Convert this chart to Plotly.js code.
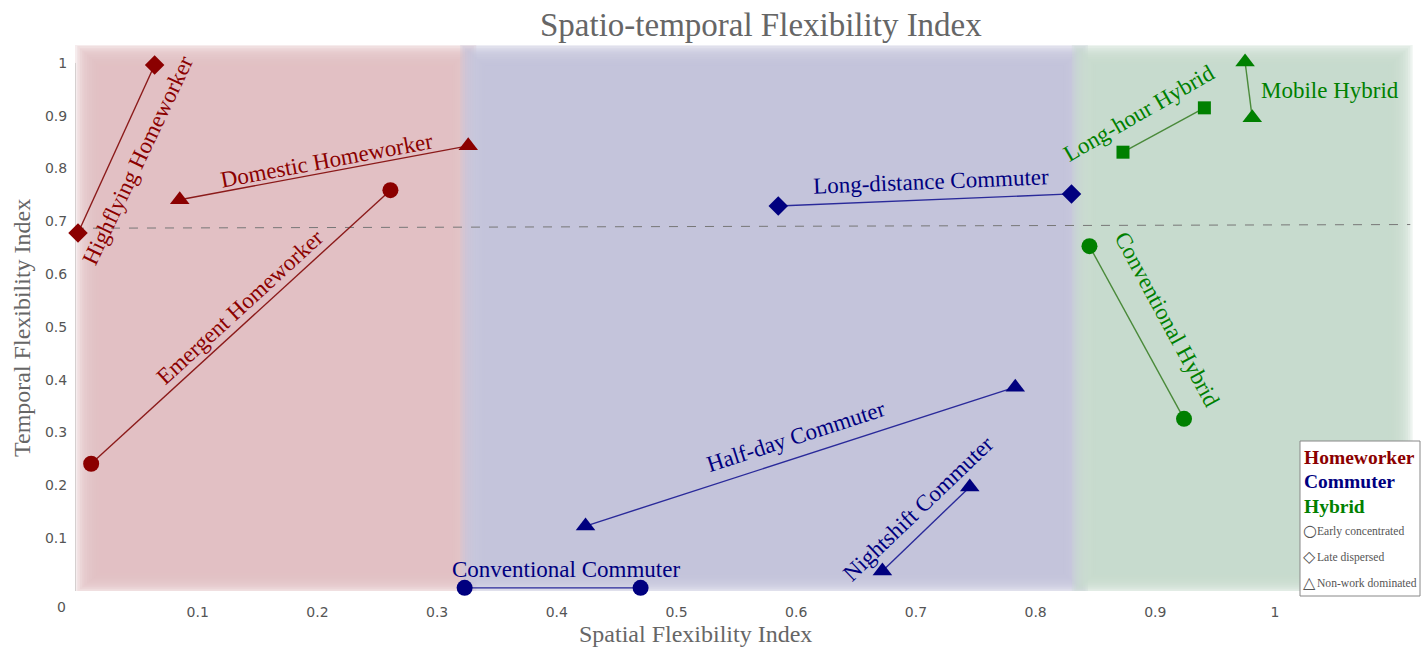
<!DOCTYPE html>
<html><head><meta charset="utf-8">
<script src="https://cdn.plot.ly/plotly-3.0.1.min.js"></script>
<style>html,body{margin:0;padding:0;background:#fff}#chart{width:1422px;height:647px}</style>
</head><body><div id="chart"></div>
<script>
// ---- data ----
const segments = ["Highflying Homeworker","Domestic Homeworker","Emergent Homeworker",
  "Long-distance Commuter","Half-day Commuter","Conventional Commuter","Nightshift Commuter",
  "Long-hour Hybrid","Mobile Hybrid","Conventional Hybrid"];
const groups = ["Homeworker","Homeworker","Homeworker","Commuter","Commuter","Commuter","Commuter","Hybrid","Hybrid","Hybrid"];
const spatialStart  = [0.000, 0.085, 0.011, 0.585, 0.424, 0.323, 0.672, 0.873, 0.975, 0.845];
const spatialEnd    = [0.064, 0.326, 0.261, 0.830, 0.783, 0.470, 0.745, 0.941, 0.981, 0.924];
const temporalStart = [0.678, 0.741, 0.241, 0.729, 0.123, 0.006, 0.038, 0.831, 1.002, 0.653];
const temporalEnd   = [0.996, 0.843, 0.759, 0.752, 0.386, 0.006, 0.197, 0.915, 0.896, 0.326];
const shapeType = ["diamond","triangle","circle","diamond","triangle","circle","triangle","square","triangle","circle"];
const xTicks = [0.1,0.2,0.3,0.4,0.5,0.6,0.7,0.8,0.9,1];
const yTicks = [0.1,0.2,0.3,0.4,0.5,0.6,0.7,0.8,0.9,1];
const regionNames = ["Homeworker","Commuter","Hybrid"];
const regionBounds = [[-0.0025,0.326],[0.326,0.837],[0.837,1.115]];
const thresholdY = [0.687, 0.694];

// ---- styles ----
const groupColor = {Homeworker:"#8b0000", Commuter:"#00007f", Hybrid:"#008000"};
const lineColor = {Homeworker:"#8b1a1a", Commuter:"#2a2a9a", Hybrid:"#4a8a3a"};
const regionColor = {Homeworker:"#e0c1c3", Commuter:"#c4c4db", Hybrid:"#c6dccd"};
const symbolMap = {diamond:"diamond", triangle:"triangle-up", circle:"circle", square:"square"};
const sizeMap = {diamond:15, triangle:17, circle:16, square:13};
// label placement: [x, y, angle]
const labelPos = [
  [0.050,0.815,-64.5],[0.208,0.815,-10.6],[0.135,0.537,-42.5],
  [0.713,0.775,-2.3],[0.600,0.292,-17.9],[0.408,0.040,0],[0.702,0.157,-43.7],
  [0.886,0.905,-30],[1.046,0.947,0],[0.910,0.515,61.5]
];

const XMIN=-0.0025, XMAX=1.1228, YMIN=0, YMAX=1.034;
const serif = "Liberation Serif, Times New Roman, serif";
const sans = "DejaVu Sans, Verdana, sans-serif";

const traces = segments.map((s,i)=>({
  type:"scatter", mode:"lines+markers", name:s,
  x:[spatialStart[i], spatialEnd[i]], y:[temporalStart[i], temporalEnd[i]],
  line:{color:lineColor[groups[i]], width:1.4},
  marker:{symbol:symbolMap[shapeType[i]], size:sizeMap[shapeType[i]], color:groupColor[groups[i]], line:{width:0}},
  cliponaxis:false, hoverinfo:"name"
}));

const shapes = [];
const pxX = 1/1197, pxY = 1/528;
// soft-edged background regions built from stacked translucent rectangles
const N = 11, STEP = 2.4, HALF = 8;
regionNames.forEach((r,ri)=>{
  const [bx0,bx1] = regionBounds[ri];
  const ox0 = bx0 - (ri>0 ? HALF*pxX : 0);
  const ox1 = bx1 + (ri<2 ? HALF*pxX : 0);
  const oy0 = -2*pxY, oy1 = 1.036;
  for(let k=0;k<N;k++){
    const d=k*STEP;
    shapes.push({type:"rect", xref:"x", yref:"y", layer:"below",
      x0:ox0+d*pxX, x1:ox1-d*pxX, y0:oy0+d*pxY*0.8, y1:oy1-d*pxY*0.9,
      fillcolor:regionColor[r], opacity:0.3, line:{width:0}});
  }
});
shapes.push({type:"line", xref:"x", yref:"y", layer:"below", x0:-0.0025, x1:1.113, y0:thresholdY[0], y1:thresholdY[1],
  line:{color:"#777", width:1, dash:"dash"}});
shapes.push({type:"line", xref:"x", yref:"y", x0:-0.0025, x1:-0.0025, y0:-0.002, y1:1.0, line:{color:"#b4b4b4", width:1}, layer:"below"});
shapes.push({type:"line", xref:"x", yref:"y", x0:-0.0025, x1:1.005, y0:-0.002, y1:-0.002, line:{color:"#b4b4b4", width:1}, layer:"below"});

// paper pixel helpers
const L=75, T=45, W=1347, H=546;
const px = v => (v-L)/W, py = v => (T+H-v)/H;
// legend box
shapes.push({type:"rect", xref:"paper", yref:"paper", x0:px(1300), x1:px(1420), y0:py(596), y1:py(441),
  fillcolor:"#ffffff", line:{color:"#888", width:1}, layer:"above"});

const annotations = segments.map((s,i)=>({
  x:labelPos[i][0], y:labelPos[i][1], xref:"x", yref:"y", text:s, showarrow:false,
  xanchor:"center", yanchor:"middle",
  textangle:labelPos[i][2], font:{family:serif, size:23, color:groupColor[groups[i]]}
}));
const paperText = (x,y,text,font,extra)=>Object.assign({xref:"paper", yref:"paper", x:px(x), y:py(y), text:text, showarrow:false,
  xanchor:"center", yanchor:"middle", font:font}, extra||{});
annotations.push(paperText(61,607,"0",{family:sans, size:14, color:"#555"}));
annotations.push(paperText(695,634,"Spatial Flexibility Index",{family:serif, size:24, color:"#666"}));
annotations.push(paperText(22,328,"Temporal Flexibility Index",{family:serif, size:24, color:"#666"},{textangle:-90}));
annotations.push(paperText(761,25,"Spatio-temporal Flexibility Index",{family:serif, size:33, color:"#666"}));
const legItems = [
  ["<b>Homeworker</b>", groupColor.Homeworker, 19.5, 457],
  ["<b>Commuter</b>", groupColor.Commuter, 19.5, 481],
  ["<b>Hybrid</b>", groupColor.Hybrid, 19.5, 506]
];
legItems.forEach(it=>annotations.push(paperText(1302,it[3],it[0],{family:serif, size:it[2], color:it[1]},{xanchor:"left"})));
const legShapes = [["○","Early concentrated",530],["◇","Late dispersed",556],["△","Non-work dominated",582]];
legShapes.forEach(it=>{
  annotations.push(paperText(1301,it[2],it[0],{family:sans, size:16, color:"#555"},{xanchor:"left"}));
  annotations.push(paperText(1315,it[2]+1,it[1],{family:serif, size:11.6, color:"#555"},{xanchor:"left"}));
});

const layout = {
  width:1422, height:647,
  margin:{l:L, r:1422-L-W, t:T, b:647-T-H, pad:0},
  paper_bgcolor:"#fff", plot_bgcolor:"rgba(0,0,0,0)",
  showlegend:false,
  xaxis:{range:[XMIN,XMAX], tickvals:xTicks, ticktext:xTicks.map(String), showgrid:false, zeroline:false, showline:false,
    ticks:"outside", ticklen:8, tickcolor:"rgba(0,0,0,0)", tickfont:{family:sans, size:14, color:"#555"}},
  yaxis:{range:[YMIN,YMAX], tickvals:yTicks, ticktext:yTicks.map(String), showgrid:false, zeroline:false, showline:false,
    ticks:"outside", ticklen:4, tickcolor:"rgba(0,0,0,0)", tickfont:{family:sans, size:14, color:"#555"}},
  shapes:shapes, annotations:annotations
};
Plotly.newPlot("chart", traces, layout, {displayModeBar:false, staticPlot:true});
</script></body></html>
